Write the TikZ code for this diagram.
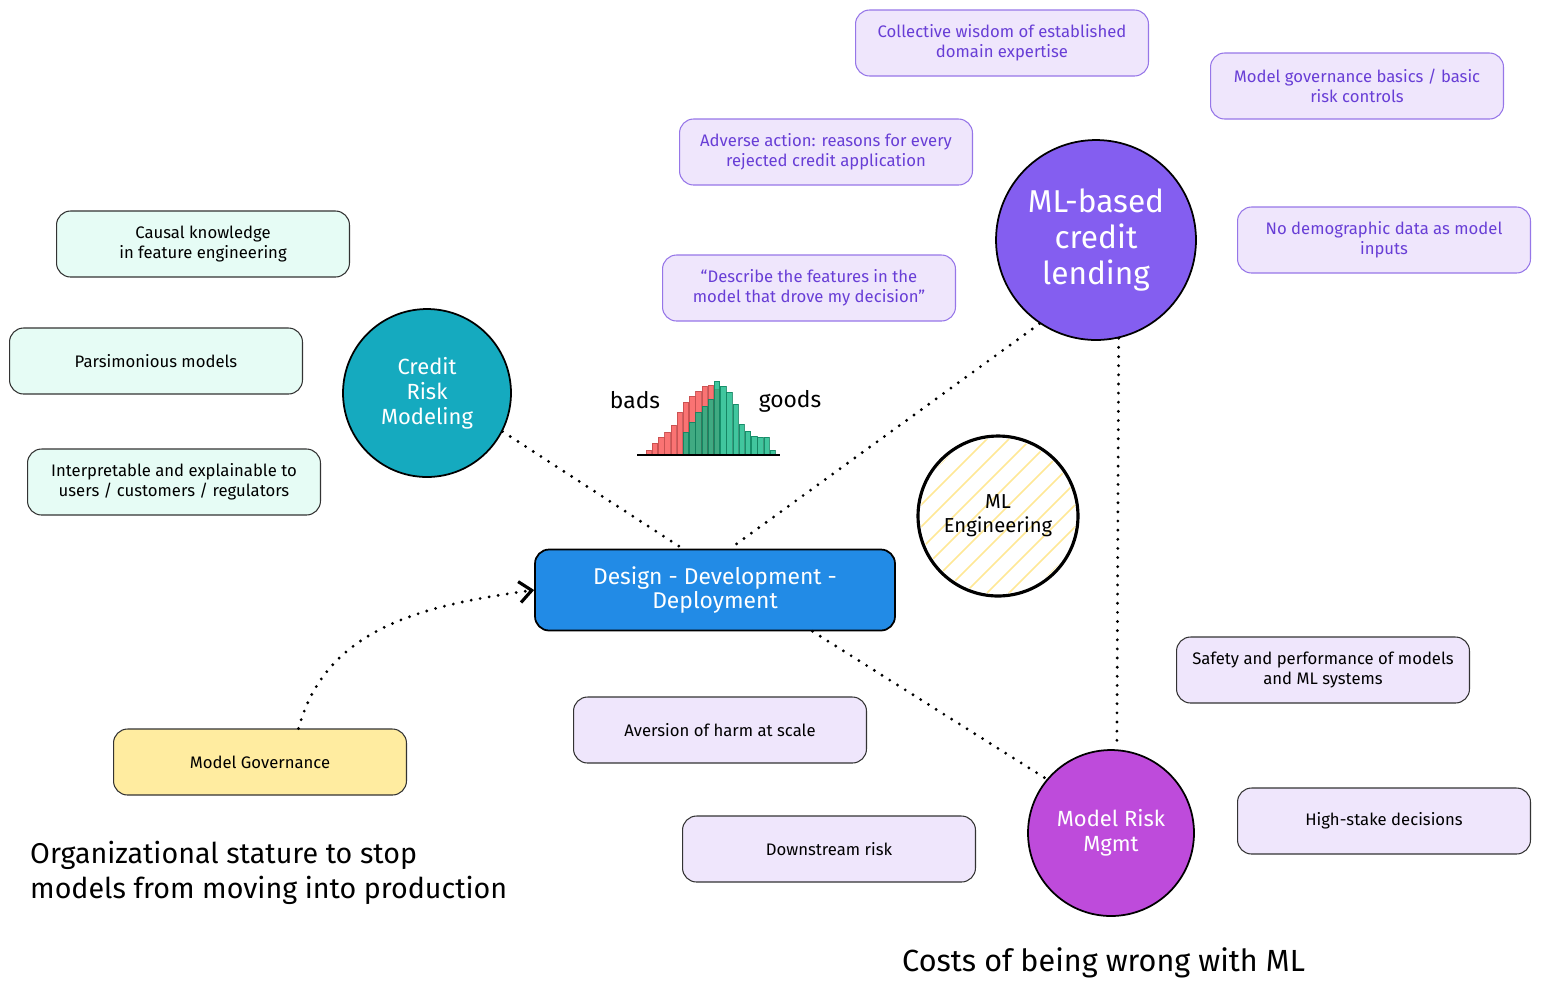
\documentclass[tikz,border=0pt]{standalone}
\usepackage{fontspec}
\setmainfont{Fira Sans}
\usetikzlibrary{arrows.meta,calc,positioning}
\definecolor{cardlav}{RGB}{239,230,252}
\definecolor{cardedge}{RGB}{150,118,232}
\definecolor{cardink}{RGB}{104,62,214}
\definecolor{cardmint}{RGB}{230,252,245}
\definecolor{govyellow}{RGB}{255,236,160}
\definecolor{hatchyellow}{RGB}{255,232,150}
\definecolor{dddblue}{RGB}{34,139,230}
\definecolor{crmteal}{RGB}{21,170,191}
\definecolor{mlviolet}{RGB}{132,94,240}
\definecolor{mrmmagenta}{RGB}{190,75,219}
\definecolor{badred}{RGB}{250,100,100}
\definecolor{goodgreen}{RGB}{18,184,134}

\begin{document}
\begin{tikzpicture}[x=0.02cm,y=-0.02cm,>=Stealth,
  card/.style={draw=cardedge,fill=cardlav,text=cardink,rounded corners=8pt,line width=0.6pt,
    minimum width=5.86cm,minimum height=1.32cm,align=center,font=\fontsize{9.5}{11.5}\selectfont},
  inkcard/.style={card,draw=black!80,text=black},
  hub/.style={circle,draw=black,line width=1pt,text=white,align=center,inner sep=0pt},
  linkdots/.style={line width=1.8pt,line cap=round,dash pattern=on 0pt off 5.2pt},
  bigtext/.style={anchor=west,align=left,font=\fontsize{16.3}{19.8}\selectfont}]
		\useasboundingbox (0,0) rectangle (1541,992);
		% purple notes round the ML hub
		\node[card] (wisdom) at (1002,43) {Collective wisdom of established\\domain expertise};
		\node[card] (basics) at (1357,86) {Model governance basics / basic\\risk controls};
		\node[card] (adverse) at (826,152) {Adverse action: reasons for every\\rejected credit application};
		\node[card] (nodemo) at (1384,240) {No demographic data as model\\inputs};
		\node[card] (describe) at (809,288) {``Describe the features in the\\model that drove my decision''};
		% mint notes
		\node[inkcard,fill=cardmint] (causal) at (203,244) {Causal knowledge\\in feature engineering};
		\node[inkcard,fill=cardmint] (parsi) at (156,361) {Parsimonious models};
		\node[inkcard,fill=cardmint] (interp) at (174,482) {Interpretable and explainable to\\users / customers / regulators};
		% hubs
		\node[hub,fill=mlviolet,minimum size=4cm,font=\fontsize{18}{20.5}\selectfont] (mlb) at (1096,240) {ML-based\\credit\\lending};
		\node[hub,fill=crmteal,minimum size=3.36cm,font=\fontsize{12.5}{14.2}\selectfont] (crm) at (427,393) {Credit\\Risk\\Modeling};
		\node[hub,fill=mrmmagenta,minimum size=3.32cm,font=\fontsize{12.5}{14.2}\selectfont] (mrm) at (1111,833) {Model Risk\\Mgmt};
		\coordinate (mlec) at (998,516);
		\begin{scope}
			\clip (mlec) circle (1.55cm);
			\foreach \k in {-8,...,8}
				\draw[hatchyellow,line width=0.9pt] ($(mlec)+(\k*22-100,100)$) -- ++(200,-200);
		\end{scope}
		\node[hub,line width=1.8pt,minimum size=3.2cm,text=black,font=\fontsize{11.5}{13.6}\selectfont] (mle) at (mlec) {ML\\Engineering};
		\node[draw=black,line width=1pt,fill=dddblue,text=white,rounded corners=8pt,minimum width=7.2cm,
			minimum height=1.62cm,align=center,font=\fontsize{13}{14.2}\selectfont] (ddd) at (715,590) {Design - Development -\\Deployment};
		\node[inkcard,fill=govyellow] (mgov) at (260,762) {Model Governance};
		% black notes near the bottom
		\node[inkcard] (safety) at (1323,670) {Safety and performance of models\\and ML systems};
		\node[inkcard] (harm) at (720,730) {Aversion of harm at scale};
		\node[inkcard] (downrisk) at (829,849) {Downstream risk};
		\node[inkcard] (stakes) at (1384,821) {High-stake decisions};
		% bads / goods histogram
		\foreach \h [count=\i from 0] in {5,12,18,23,30,43,53,59,64,69,70,66}
			\filldraw[fill=badred,draw=badred!80!black,line width=0.3pt,opacity=0.9] (646+6.2*\i,455) rectangle ++(5.4,-\h);
		\foreach \h [count=\i from 6] in {23,33,43,49,56,74,69,63,51,31,24,19,18,18,5}
			\filldraw[fill=goodgreen,draw=goodgreen!70!black,line width=0.3pt,opacity=0.8] (646+6.2*\i,455) rectangle ++(5.4,-\h);
		\draw[line width=1pt] (637,455) -- (780,455);
		\node[font=\fontsize{13}{15}\selectfont] (bads) at (635,400) {bads};
		\node[font=\fontsize{13}{15}\selectfont] (goods) at (790,401) {goods};
		% connectors
		\draw[linkdots] (crm.-27) -- (ddd.128);
		\draw[linkdots] (mlb.-124) -- (ddd.70);
		\draw[linkdots] (mlb.-77) -- (mrm.86);
		\draw[linkdots] (ddd.-23) -- (mrm.140);
		\draw[linkdots,-{Straight Barb[length=7pt,width=12pt]}] (mgov.41) to[out=75,in=188] (ddd.west);
		% titles
		\node[bigtext] (stature) at (24,873) {Organizational stature to stop\\models from moving into production};
		\node[bigtext,font=\fontsize{17.4}{20}\selectfont] (costs) at (896,963) {Costs of being wrong with ML};
\end{tikzpicture}
\end{document}
